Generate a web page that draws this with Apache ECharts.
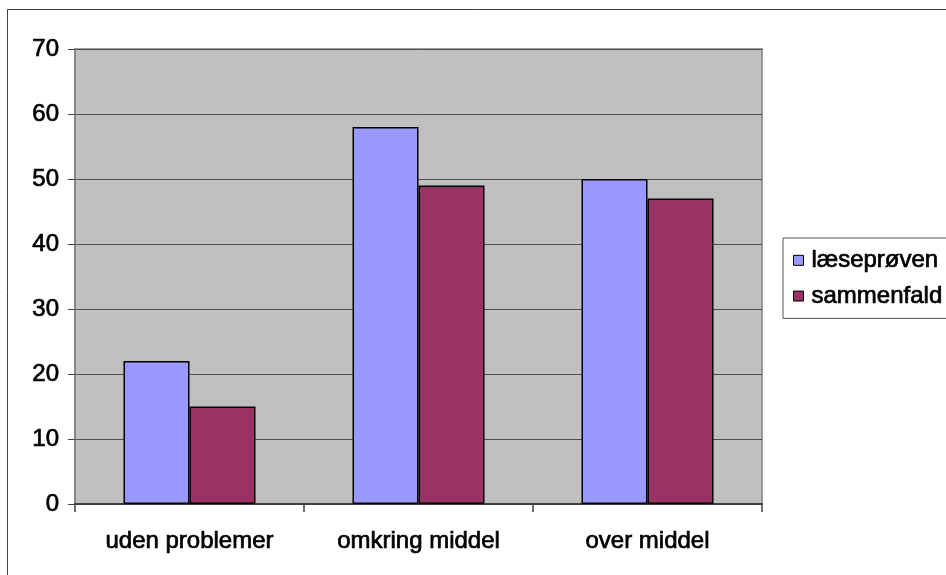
<!DOCTYPE html>
<html>
<head>
<meta charset="utf-8">
<script src="https://cdn.jsdelivr.net/npm/echarts@6/dist/echarts.min.js"></script>
<style>
  html, body { margin: 0; padding: 0; background: #fff; }
  #chart { width: 946px; height: 575px; }
</style>
</head>
<body>
<div id="chart"></div>
<script>
// Category groups and the two compared series
const categories = ['uden problemer', 'omkring middel', 'over middel'];
const seriesNames = ['læseprøven', 'sammenfald'];
const laeseproeven = [22, 58, 50];
const sammenfald = [15, 49, 47];
const yTicks = { min: 0, max: 70, step: 10 };

const FONT = '"Liberation Sans", Arial, sans-serif';
// slightly heavier strokes on all text
const heavy = {
  textBorderColor: '#000',
  textBorderWidth: 0.7
};

const chart = echarts.init(document.getElementById('chart'));
chart.setOption({
  animation: false,
  backgroundColor: '#ffffff',
  graphic: [{
    type: 'rect',
    shape: { x: 7.5, y: 9.5, width: 945, height: 600 },
    style: { fill: 'none', stroke: '#404040', lineWidth: 1 },
    silent: true,
    z: -1
  }],
  grid: {
    left: 75, top: 49, width: 687, height: 455,
    show: true,
    backgroundColor: '#C0C0C0',
    borderColor: '#808080',
    borderWidth: 1.5
  },
  legend: {
    orient: 'vertical',
    left: 783, top: 238,
    padding: [10, 12, 10, 10],
    itemWidth: 10, itemHeight: 10,
    itemGap: 11,
    backgroundColor: '#ffffff',
    borderColor: '#555',
    borderWidth: 1,
    icon: 'rect',
    itemStyle: { borderColor: '#000', borderWidth: 1 },
    textStyle: Object.assign({ fontFamily: FONT, fontSize: 24, color: '#000', lineHeight: 24, padding: [0, 0, 0, 3] }, heavy),
    data: seriesNames
  },
  xAxis: {
    type: 'category',
    data: categories,
    axisLine: { lineStyle: { color: '#404040', width: 2 } },
    axisTick: { show: true, length: 8, lineStyle: { color: '#404040', width: 1.5 } },
    axisLabel: Object.assign({ fontFamily: FONT, fontSize: 24, color: '#000', margin: 25 }, heavy),
    splitLine: { show: false }
  },
  yAxis: {
    type: 'value',
    min: yTicks.min, max: yTicks.max, interval: yTicks.step,
    axisLine: { show: true, lineStyle: { color: '#808080', width: 1.5 } },
    axisTick: { show: true, length: 7, lineStyle: { color: '#404040', width: 1 } },
    axisLabel: Object.assign({ fontFamily: FONT, fontSize: 24, color: '#000', margin: 16 }, heavy),
    splitLine: { show: true, lineStyle: { color: '#505050', width: 1 } }
  },
  series: [
    {
      name: seriesNames[0], type: 'bar', data: laeseproeven,
      barWidth: 66, barGap: '0%',
      itemStyle: { color: '#9999FF', borderColor: '#000', borderWidth: 1.5 }
    },
    {
      name: seriesNames[1], type: 'bar', data: sammenfald,
      barWidth: 66, barGap: '0%',
      itemStyle: { color: '#993366', borderColor: '#000', borderWidth: 1.5 }
    }
  ]
});
</script>
</body>
</html>
